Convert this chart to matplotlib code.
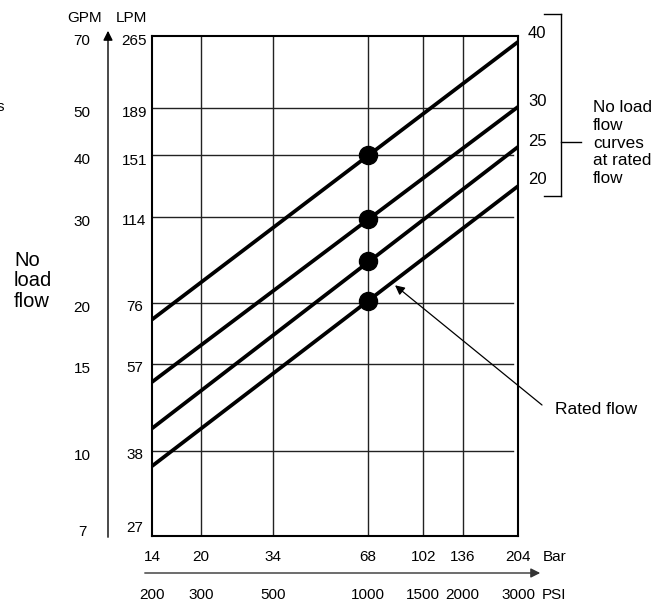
import numpy as np
import matplotlib
matplotlib.use("Agg")
import matplotlib.pyplot as plt
from matplotlib.lines import Line2D
from matplotlib.patches import FancyArrowPatch
from matplotlib.transforms import blended_transform_factory, offset_copy

plt.rcParams['font.family'] = ['Liberation Sans', 'DejaVu Sans']

# axis scales (pressure and no load flow)
pressure_bar = [14, 20, 34, 68, 102, 136, 204]
pressure_psi = [200, 300, 500, 1000, 1500, 2000, 3000]
flow_gpm = [7, 10, 15, 20, 30, 40, 50, 70]
flow_lpm = [27, 38, 57, 76, 114, 151, 189, 265]

# no load flow curves, labelled by rated flow (GPM)
rated_flow = [40, 30, 25, 20]
rated_bar = 68
rated_point_gpm = [40, 29.7, 24.3, 20.2]    # dots as drawn at 68 bar
curve_start_gpm = [18.5, 13.8, 11.1, 9.3]   # at 14 bar
curve_end_gpm = [68.1, 50.2, 41.6, 34.6]    # at 204 bar

W, H = 666, 605
fig = plt.figure(figsize=(W / 100, H / 100), dpi=100)
ax = fig.add_axes([152 / W, 1 - 536 / H, 366 / W, 500 / H])
ax.set_xscale('log')
ax.set_yscale('log')
ax.set_xlim(pressure_bar[0], pressure_bar[-1])
ax.set_ylim(6.7, flow_gpm[-1])
ax.set_xticks([])
ax.set_yticks([])
ax.minorticks_off()
ax.tick_params(which='both', length=0, labelbottom=False, labelleft=False)
for s in ax.spines.values():
    s.set_linewidth(1.5)

def px(x, y):
    # pixel coords measured from top-left -> figure fraction
    return x / W, 1 - y / H

# grid
for b in pressure_bar[1:-1]:
    ax.axvline(b, color='#222222', lw=1.0, zorder=1)
for g in flow_gpm[1:-1]:
    ax.axhline(g, xmin=0, xmax=0.986, color='#222222', lw=1.0, zorder=1)

# curves and rated points
for q, q0, q1 in zip(rated_point_gpm, curve_start_gpm, curve_end_gpm):
    ax.plot([pressure_bar[0], pressure_bar[-1]], [q0, q1], color='black',
            lw=2.7, solid_capstyle='butt', zorder=3)
    ax.plot(rated_bar, q, 'o', color='black', markersize=13, zorder=4)

# y labels: GPM and LPM columns
ty = offset_copy(blended_transform_factory(fig.transFigure, ax.transData),
                 fig=fig, y=-5, units='dots')
for g, l in zip(flow_gpm, flow_lpm):
    ax.text(82 / W, g, str(g), transform=ty, ha='center', va='center',
            fontsize=11)
    ax.text(134.5 / W, l / 3.785, str(l), transform=ty, ha='center',
            va='center', fontsize=11)
fig.text(*px(84.5, 18), 'GPM', ha='center', va='center', fontsize=11)
fig.text(*px(131, 18), 'LPM', ha='center', va='center', fontsize=11)
fig.add_artist(FancyArrowPatch(
    px(108, 540), px(108, 28), transform=fig.transFigure,
    arrowstyle='-|>', mutation_scale=14, lw=1.0, color='black'))
fig.text(*px(14, 281), 'No\nload\nflow', ha='left', va='center',
         fontsize=14.5, linespacing=1.07)
fig.text(*px(4, 107), 's', ha='right', va='center', fontsize=11)

# x labels: Bar and PSI rows
tx = blended_transform_factory(ax.transData, fig.transFigure)
for b, p in zip(pressure_bar, pressure_psi):
    ax.text(b, 1 - 557 / H, str(b), transform=tx, ha='center', va='center',
            fontsize=11)
    ax.text(b, 1 - 595 / H, str(p), transform=tx, ha='center', va='center',
            fontsize=11)
fig.text(*px(543, 557), 'Bar', ha='left', va='center', fontsize=11)
fig.text(*px(542, 595), 'PSI', ha='left', va='center', fontsize=11)
fig.add_artist(FancyArrowPatch(
    px(142, 573), px(543, 573), transform=fig.transFigure,
    arrowstyle='-|>', mutation_scale=14, lw=1.0, color='#333333'))

# right side legend of curves with bracket
for q, yy in zip(rated_flow, [33, 102, 142, 180]):
    fig.text(*px(528, yy), str(q), ha='left', va='center', fontsize=12)
for (x0, y0), (x1, y1) in [((544, 14), (561, 14)), ((561, 14), (561, 196)),
                           ((544, 196), (561, 196)), ((561, 142), (581, 142))]:
    fig.add_artist(Line2D([x0 / W, x1 / W], [1 - y0 / H, 1 - y1 / H],
                          transform=fig.transFigure, color='black', lw=1.0))
fig.text(*px(593, 143), 'No load\nflow\ncurves\nat rated\nflow', ha='left',
         va='center', fontsize=12.3, linespacing=1.24)

# rated flow pointer onto the 20 GPM curve
i = rated_flow.index(20)
xb = 81.0
frac = np.log(xb / pressure_bar[0]) / np.log(pressure_bar[-1] / pressure_bar[0])
yq = np.exp(np.log(curve_start_gpm[i]) +
            frac * (np.log(curve_end_gpm[i]) - np.log(curve_start_gpm[i])))
ax.annotate('', xy=(xb, yq), xycoords='data',
            xytext=(542, H - 405), textcoords='figure pixels',
            arrowprops=dict(arrowstyle='-|>', mutation_scale=14, lw=0.9,
                            color='black', shrinkA=0, shrinkB=3),
            annotation_clip=False)
fig.text(*px(555, 410), 'Rated flow', ha='left', va='center', fontsize=12.5)

fig.savefig('out.png', dpi=100)
